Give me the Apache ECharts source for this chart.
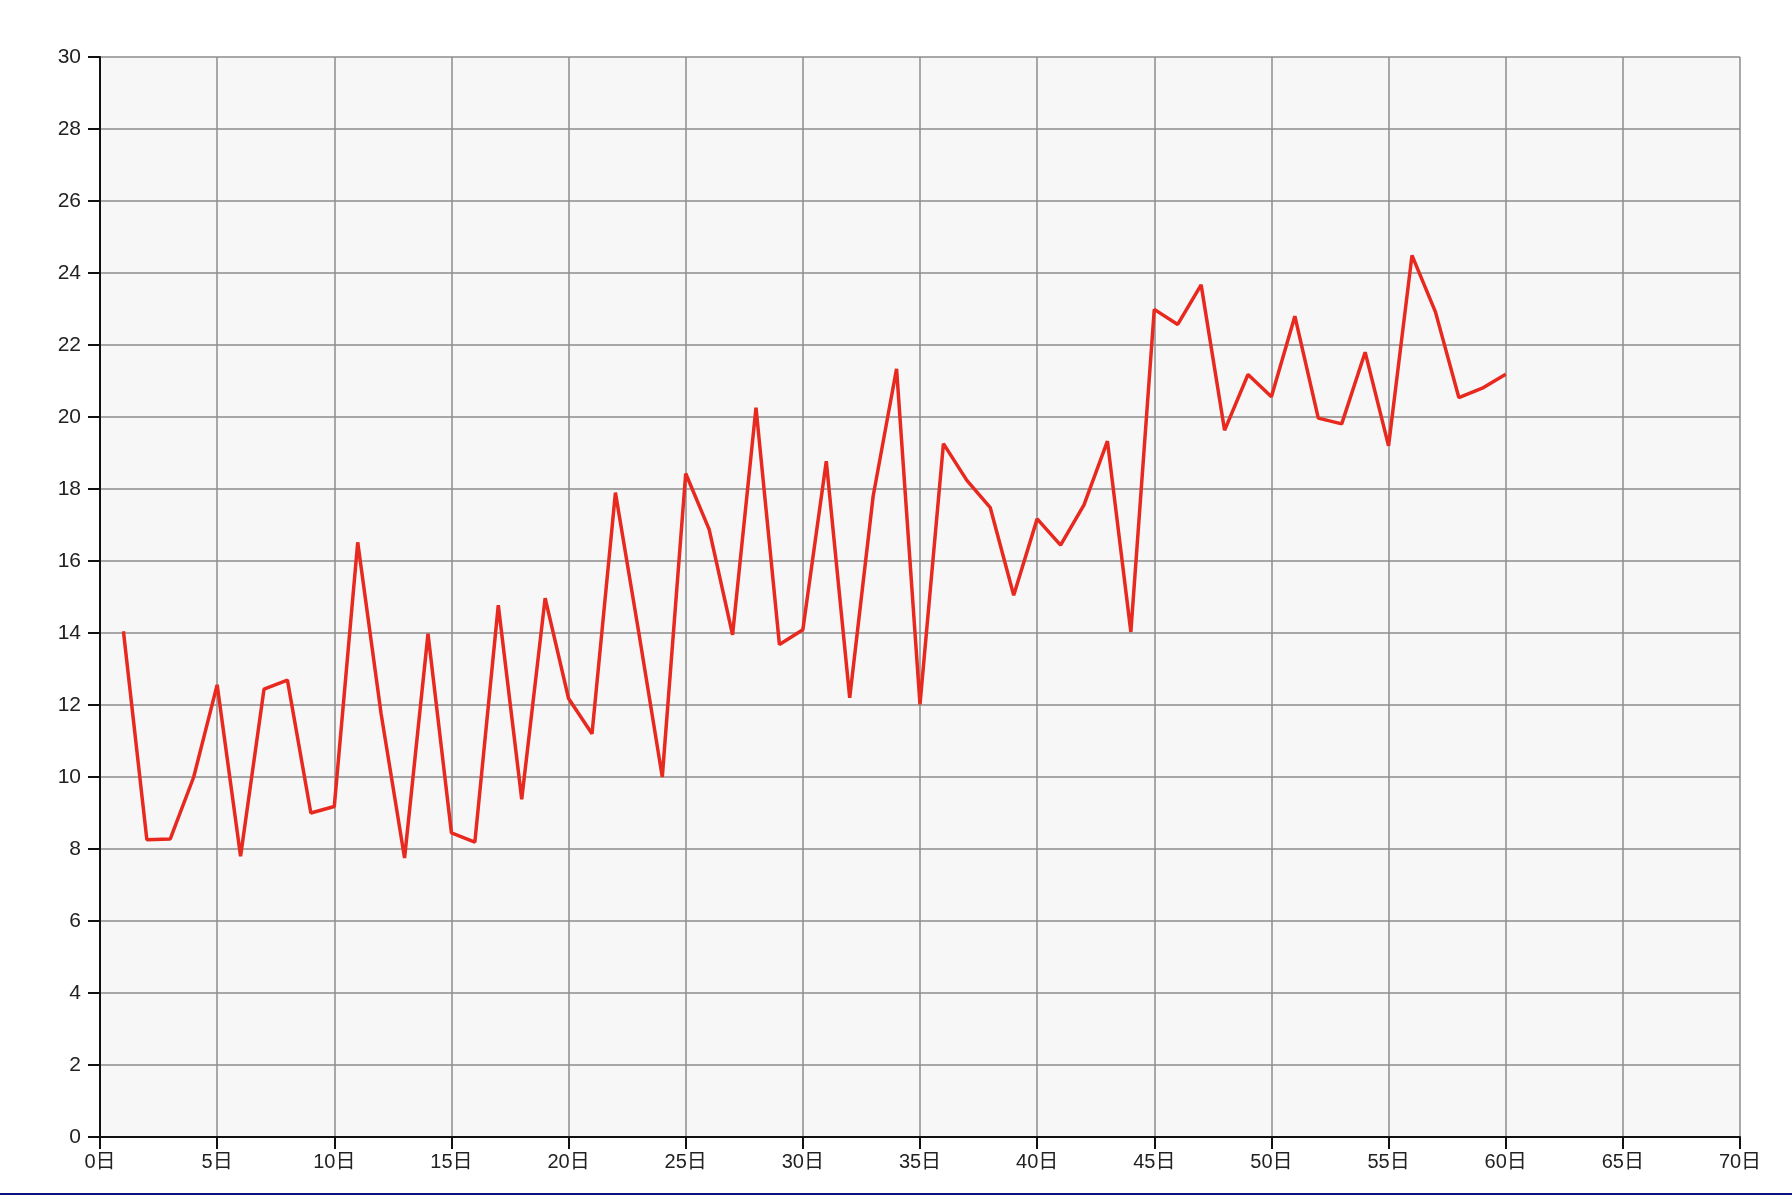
<!DOCTYPE html>
<html>
<head>
<meta charset="utf-8">
<script src="https://cdn.jsdelivr.net/npm/echarts@6/dist/echarts.min.js"></script>
<style>
html,body{margin:0;padding:0;background:#fff;}
#chart{width:1792px;height:1195px;}
#bar{position:absolute;left:0;top:1193px;width:1792px;height:2px;background:#0c0f80;}
</style>
</head>
<body>
<div id="chart"></div>
<div id="bar"></div>
<script>
const days = [1,2,3,4,5,6,7,8,9,10,11,12,13,14,15,16,17,18,19,20,21,22,23,24,25,26,27,28,29,30,31,32,33,34,35,36,37,38,39,40,41,42,43,44,45,46,47,48,49,50,51,52,53,54,55,56,57,58,59,60];
const values = [14.05,8.26,8.28,10.0,12.56,7.8,12.44,12.69,9.0,9.18,16.52,11.75,7.75,13.98,8.45,8.19,14.77,9.38,14.97,12.18,11.2,17.9,14.0,10.0,18.43,16.88,13.95,20.26,13.68,14.09,18.77,12.2,17.8,21.34,12.02,19.26,18.24,17.48,15.05,17.17,16.44,17.56,19.33,14.03,22.99,22.57,23.67,19.63,21.18,20.56,22.8,19.97,19.81,21.8,19.2,24.49,22.92,20.54,20.8,21.19];
const xTickSuffix = '日';

const chart = echarts.init(document.getElementById('chart'), null, {renderer:'canvas'});
const font = '"Liberation Sans", "Noto Sans CJK JP", sans-serif';
chart.setOption({
  animation:false,
  grid:{left:100,right:52,top:57,bottom:58,show:true,backgroundColor:'#f7f7f7',borderWidth:0},
  xAxis:{
    type:'value',min:0,max:70,interval:5,
    axisLine:{show:true,onZero:false,lineStyle:{color:'#111',width:2}},
    axisTick:{show:true,length:12,lineStyle:{color:'#111',width:2}},
    axisLabel:{formatter:v=>v+xTickSuffix,fontSize:20,color:'#222',margin:15,fontFamily:font},
    splitLine:{show:true,lineStyle:{color:'#8c8c8c',width:1.5}}
  },
  yAxis:{
    type:'value',min:0,max:30,interval:2,
    axisLine:{show:true,onZero:false,lineStyle:{color:'#111',width:2}},
    axisTick:{show:true,length:12,lineStyle:{color:'#111',width:2}},
    axisLabel:{fontSize:21,color:'#222',margin:19,fontFamily:font},
    splitLine:{show:true,lineStyle:{color:'#8c8c8c',width:1.5}}
  },
  series:[{
    type:'line',
    data:days.map((d,i)=>[d,values[i]]),
    showSymbol:false,
    lineStyle:{color:'#e8291f',width:3.5},
    itemStyle:{color:'#e8291f'}
  }]
});
</script>
</body>
</html>
